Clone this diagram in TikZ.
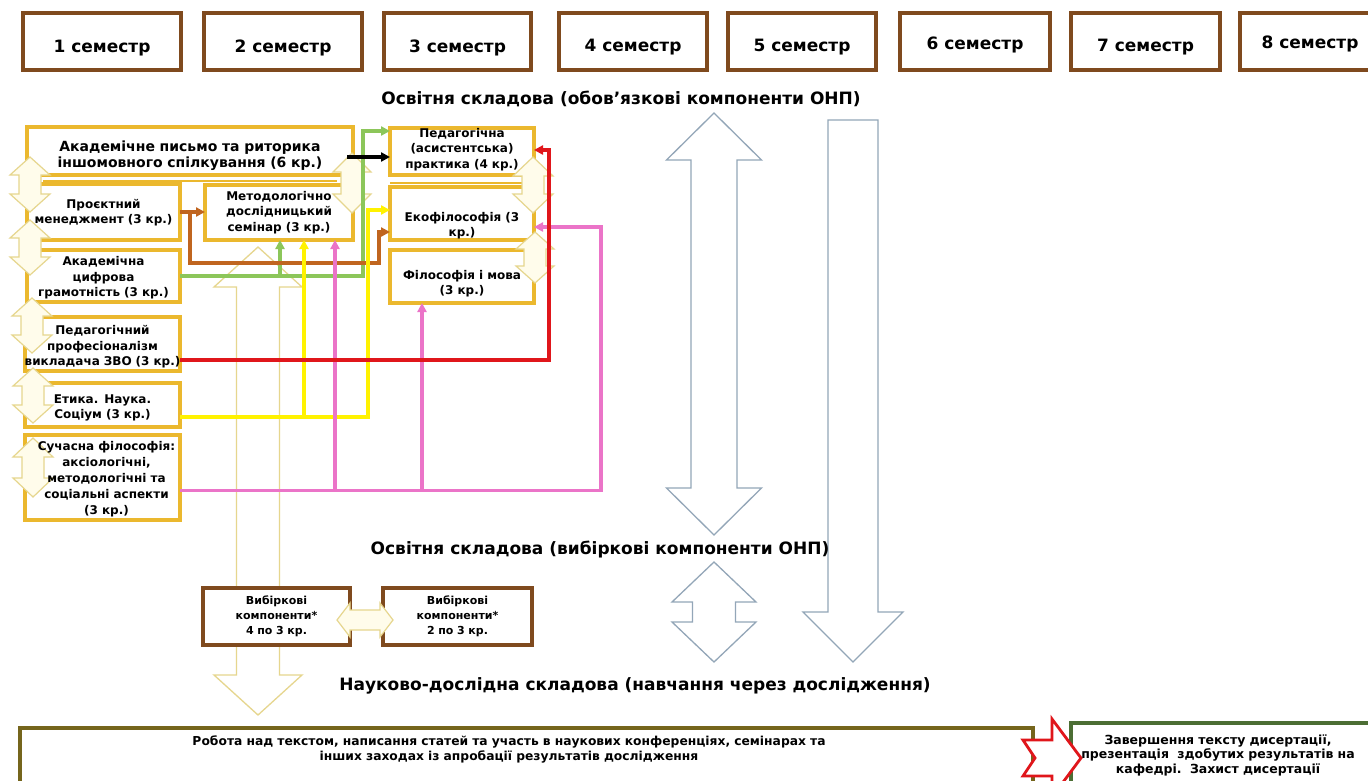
\documentclass[tikz,border=0pt]{standalone}
\usepackage{fontspec}
\setmainfont{DejaVu Sans}
\usetikzlibrary{arrows.meta,calc}
\definecolor{brownB}{HTML}{7F4A1E}
\definecolor{goldY}{HTML}{EBB82E}
\definecolor{paleY}{HTML}{E6D68E}
\definecolor{creamY}{HTML}{FFFCEB}
\definecolor{arrowG}{HTML}{93A6B8}
\definecolor{cGreen}{HTML}{8CC65A}
\definecolor{cBrown}{HTML}{C0651F}
\definecolor{cYellow}{HTML}{FFF200}
\definecolor{cRed}{HTML}{E0161B}
\definecolor{cPink}{HTML}{EB74C8}
\definecolor{oliveB}{HTML}{75651C}
\definecolor{greenB}{HTML}{4C6E34}
\newcommand{\VDArrow}[7][]{%
 \draw[#1] (#2,#3) -- ({#2+#5},{#3+#7}) -- ({#2+#6},{#3+#7}) -- ({#2+#6},{#4-#7}) -- ({#2+#5},{#4-#7}) -- (#2,#4) -- ({#2-#5},{#4-#7}) -- ({#2-#6},{#4-#7}) -- ({#2-#6},{#3+#7}) -- ({#2-#5},{#3+#7}) -- cycle;}
\newcommand{\HDArrow}[7][]{%
 \draw[#1] (#3,#2) -- ({#3+#7},{#2-#5}) -- ({#3+#7},{#2-#6}) -- ({#4-#7},{#2-#6}) -- ({#4-#7},{#2-#5}) -- (#4,#2) -- ({#4-#7},{#2+#5}) -- ({#4-#7},{#2+#6}) -- ({#3+#7},{#2+#6}) -- ({#3+#7},{#2+#5}) -- cycle;}
\tikzset{
 sem/.style={draw=brownB, line width=3.5pt, inner sep=0pt, outer sep=0pt, minimum height=57pt},
 semlbl/.style={font=\fontsize{17}{20}\selectfont\bfseries, inner sep=0pt, anchor=base},
 hdr/.style={font=\fontsize{17}{20}\selectfont\bfseries, inner sep=0pt, anchor=base},
 ybox/.style={draw=goldY, line width=3.5pt, inner sep=0pt, outer sep=0pt},
 vbox/.style={draw=brownB, line width=3.5pt, fill=white, inner sep=0pt, outer sep=0pt},
 btext/.style={font=\fontsize{12}{15.5}\selectfont\bfseries, align=center, inner sep=0pt},
 vtext/.style={font=\fontsize{11}{15}\selectfont\bfseries, align=center, inner sep=0pt},
 conn/.style={line width=3.2pt, -{Triangle[length=9pt,width=9pt]}},
 darr/.style={draw=paleY, fill=creamY, line width=1.2pt, line join=miter},
 bigY/.style={draw=paleY, line width=1.3pt, line join=miter},
 bigG/.style={draw=arrowG, fill=white, line width=1.3pt, line join=miter},
}
\begin{document}
\begin{tikzpicture}[x=1pt,y=-1pt]
\useasboundingbox (0,0) rectangle (1368,780);
\fill[white] (0,0) rectangle (1368,780);

% big pale-yellow double arrow (behind)
\VDArrow[bigY]{258}{247}{715}{44}{21.5}{40}
% big grey arrows
\VDArrow[bigG]{714}{113}{535}{47.5}{23}{47}
\VDArrow[bigG]{714}{562}{662}{42}{21.5}{40}
\draw[bigG] (828,120) -- (878,120) -- (878,612) -- (903,612) -- (853,662) -- (803,612) -- (828,612) -- cycle;

% semester boxes
\node[sem, minimum width=158pt] (s1) at (102,41.5) {};
\node[sem, minimum width=158pt] (s2) at (283,41.5) {};
\node[sem, minimum width=147pt] (s3) at (457.5,41.5) {};
\node[sem, minimum width=148pt] (s4) at (633,41.5) {};
\node[sem, minimum width=148pt] (s5) at (802,41.5) {};
\node[sem, minimum width=150pt] (s6) at (975,41.5) {};
\node[sem, minimum width=149pt] (s7) at (1145.5,41.5) {};
\node[sem, minimum width=134pt] (s8) at (1307,41.5) {};

% yellow boxes
\node[ybox, minimum width=326pt, minimum height=48pt] (a1) at (190,151) {};
\node[ybox, minimum width=153pt, minimum height=56pt] (a2) at (103.5,212) {};
\node[ybox, minimum width=148pt, minimum height=55pt] (a3) at (279,212.5) {};
\node[ybox, minimum width=153pt, minimum height=52pt] (a4) at (103.5,276) {};
\node[ybox, minimum width=155pt, minimum height=54pt] (a5) at (102.5,344) {};
\node[ybox, minimum width=155pt, minimum height=44pt] (a6) at (102.5,405) {};
\node[ybox, minimum width=155pt, minimum height=85pt] (a7) at (102.5,477.5) {};
\node[ybox, minimum width=144pt, minimum height=47pt] (b1) at (462,151.5) {};
\node[ybox, minimum width=144pt, minimum height=53pt] (b2) at (462,213.5) {};
\node[ybox, minimum width=144pt, minimum height=53pt] (b3) at (462,276.5) {};
\draw[goldY, line width=2pt] ($(a1.south west)+(16,6)$) -- ($(a1.south east)+(-16,6)$);
\draw[goldY, line width=2pt] ($(b1.south west)+(0,8)$) -- ($(b1.south east)+(-7,8)$);

% elective boxes
\node[vbox, minimum width=147pt, minimum height=57pt] (v1) at (276.5,616.5) {};
\node[vbox, minimum width=149pt, minimum height=57pt] (v2) at (457.5,616.5) {};

% bottom boxes
\node[draw=oliveB, line width=4pt, inner sep=0pt, outer sep=0pt, minimum width=1013pt, minimum height=80pt] (w1) at (526.5,768) {};
\node[draw=greenB, line width=4pt, inner sep=0pt, outer sep=0pt, minimum width=300pt, minimum height=80pt] (w2) at (1221,763) {};
\draw[cRed, fill=white, line width=2.8pt, line join=miter] (1023,740) -- (1052,740) -- (1052,719) -- (1081,758) -- (1052,797) -- (1052,776) -- (1023,776) -- (1035,758) -- cycle;

% small pale double arrows
\VDArrow[darr]{30}{157}{212}{20}{11}{18}
\VDArrow[darr]{30}{220}{275}{20}{11}{18}
\VDArrow[darr]{32}{298}{353}{20}{11}{18}
\VDArrow[darr]{33}{368}{423}{20}{11}{18}
\VDArrow[darr]{33}{438}{497}{20}{11}{19}
\VDArrow[darr]{352}{153}{213}{19}{11}{19}
\VDArrow[darr]{533}{157}{213}{20}{11}{19}
\VDArrow[darr]{535}{232}{283}{19}{11}{17}
\HDArrow[darr]{620}{337}{393}{17}{10}{13}

% connectors
\coordinate (g1) at (363,131);
\coordinate (gb) at (280,276);
\draw[conn, cGreen] (a4.east) -| (g1) -- (g1 -| b1.west);
\draw[conn, cGreen] (gb) -- (gb |- a3.south);

\coordinate (br1) at ($(a2.east)+(10,0)$);
\coordinate (br2) at (379,263);
\coordinate (br3) at (379,232);
\draw[conn, cBrown] (a2.east) -- (a2.east -| a3.west);
\draw[conn, cBrown] (br1) |- (br2) -- (br3) -- (br3 -| b2.west);

\coordinate (y0) at ($(a6.east)+(0,12)$);
\coordinate (y1) at (368,210);
\coordinate (yb) at (304,417);
\draw[conn, cYellow] (y0) -| (y1) -- (y1 -| b2.west);
\draw[conn, cYellow] (yb) -- (yb |- a3.south);

\coordinate (p0) at ($(a7.east)+(0,13)$);
\coordinate (p1) at (601,227);
\coordinate (pb1) at (335,490.5);
\coordinate (pb2) at (422,490.5);
\draw[conn, cPink] (p0) -| (p1) -- (p1 -| b2.east);
\draw[conn, cPink] (pb1) -- (pb1 |- a3.south);
\draw[conn, cPink] (pb2) -- (pb2 |- b3.south);

\coordinate (r0) at ($(a5.east)+(0,16)$);
\coordinate (r1) at (549,150);
\draw[conn, cRed] (r0) -| (r1) -- (r1 -| b1.east);

\draw[conn, black, line width=3.6pt] ($(a1.east)+(-6,6)$) -- ($(b1.west)+(0,5.5)$);

% texts
\node[semlbl] at ($(s1.center)+(0,10.5)$) {1 семестр};
\node[semlbl] at ($(s2.center)+(0,10.5)$) {2 семестр};
\node[semlbl] at ($(s3.center)+(0,10.5)$) {3 семестр};
\node[semlbl] at ($(s4.center)+(0,10)$) {4 семестр};
\node[semlbl] at ($(s5.center)+(0,10)$) {5 семестр};
\node[semlbl] at ($(s6.center)+(0,8)$) {6 семестр};
\node[semlbl] at ($(s7.center)+(0,10)$) {7 семестр};
\node[semlbl] at ($(1310,41.5)+(0,7)$) {8 семестр};

\node[hdr] (h1) at (621,104) {Освітня складова (обов’язкові компоненти ОНП)};
\node[hdr] (h2) at (600,554) {Освітня складова (вибіркові компоненти ОНП)};
\node[hdr] (h3) at (635,690) {Науково-дослідна складова (навчання через дослідження)};

\node[btext, text width=330pt, font=\fontsize{14}{15.5}\selectfont\bfseries] at ($(a1.center)+(0,4.5)$) {Академічне письмо та риторика\\іншомовного спілкування (6 кр.)};
\node[btext, text width=160pt] at ($(a2.center)+(0,0.5)$) {Проєктний\\менеджмент (3 кр.)};
\node[btext, text width=150pt] at ($(a3.center)+(0,0)$) {Методологічно\\дослідницький\\семінар (3 кр.)};
\node[btext, text width=160pt] at ($(a4.center)+(0,2)$) {Академічна\\цифрова\\грамотність (3 кр.)};
\node[btext, text width=170pt] at ($(a5.center)+(0,3)$) {Педагогічний\\професіоналізм\\викладача ЗВО (3 кр.)};
\node[btext, text width=160pt] at ($(a6.center)+(0,3)$) {Етика. Наука.\\Соціум (3 кр.)};
\node[btext, text width=170pt, font=\fontsize{12}{16}\selectfont\bfseries] at ($(a7.center)+(4,2)$) {Сучасна філософія:\\аксіологічні,\\методологічні та\\соціальні аспекти\\(3 кр.)};
\node[btext, text width=150pt] at ($(b1.center)+(0,-2)$) {Педагогічна\\(асистентська)\\практика (4 кр.)};
\node[btext, text width=150pt] at ($(b2.center)+(0,12)$) {Екофілософія (3\\кр.)};
\node[btext, text width=150pt] at ($(b3.center)+(0,7)$) {Філософія і мова\\(3 кр.)};
\node[vtext, text width=145pt] at (v1.center) {Вибіркові\\компоненти*\\4 по 3 кр.};
\node[vtext, text width=145pt] at (v2.center) {Вибіркові\\компоненти*\\2 по 3 кр.};
\node[btext, font=\fontsize{12.3}{15}\selectfont\bfseries, text width=900pt] at (509,749.5) {Робота над текстом, написання статей та участь в наукових конференціях, семінарах та\\інших заходах із апробації результатів дослідження};
\node[btext, font=\fontsize{12.5}{14.5}\selectfont\bfseries, text width=300pt] at (1218,755) {Завершення тексту дисертації,\\презентація\ \ здобутих результатів на\\кафедрі.\ \ Захист дисертації};
\end{tikzpicture}
\end{document}
